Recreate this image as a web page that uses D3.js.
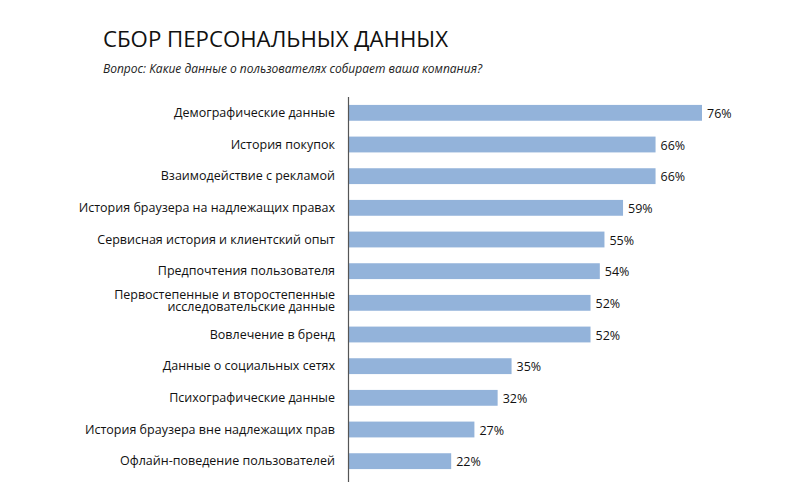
<!DOCTYPE html>
<html><head><meta charset="utf-8">
<script src="https://cdn.jsdelivr.net/npm/d3@7"></script>
<style>body{margin:0;background:#fff}text{font-family:"Open Sans",sans-serif}</style>
</head><body><div id="vis"></div>
<script>
// chart data
const categories = [
  "Демографические данные",
  "История покупок",
  "Взаимодействие с рекламой",
  "История браузера на надлежащих правах",
  "Сервисная история и клиентский опыт",
  "Предпочтения пользователя",
  "Первостепенные и второстепенные|исследовательские данные",
  "Вовлечение в бренд",
  "Данные о социальных сетях",
  "Психографические данные",
  "История браузера вне надлежащих прав",
  "Офлайн-поведение пользователей"
];
const values = [76, 66, 66, 59, 55, 54, 52, 52, 35, 32, 27, 22];

let svg = d3.select('#vis').append('svg')
  .attr('width', 800).attr('height', 492);

svg.append('text').attr('x', 103).attr('y', 47)
  .attr('font-size', 22).attr('font-weight', 500).attr('fill', '#111')
  .attr('textLength', 345).attr('lengthAdjust', 'spacingAndGlyphs')
  .text('СБОР ПЕРСОНАЛЬНЫХ ДАННЫХ');
svg.append('text').attr('x', 103).attr('y', 73)
  .attr('font-size', 12).attr('font-style', 'italic').attr('fill', '#222')
  .text('Вопрос: Какие данные о пользователях собирает ваша компания?');

let x = d3.scaleLinear().domain([0, 76]).range([349, 702]);
let y = d3.scaleBand().domain(categories).range([97, 477]).paddingInner(0.5).paddingOuter(0.25);

svg.selectAll('rect.bar').data(values).enter().append('rect')
  .attr('class', 'bar')
  .attr('x', x(0))
  .attr('y', (d, i) => y(categories[i]))
  .attr('width', d => x(d) - x(0))
  .attr('height', y.bandwidth())
  .attr('fill', '#93b3da');

svg.append('line').attr('x1', 348.5).attr('x2', 348.5).attr('y1', 97).attr('y2', 482)
  .attr('stroke', '#555').attr('stroke-width', 1.2);

svg.selectAll('text.val').data(values).enter().append('text')
  .attr('x', d => x(d) + 5)
  .attr('y', (d, i) => y(categories[i]) + y.bandwidth() / 2 + 5)
  .attr('font-size', 12.5).attr('fill', '#111')
  .text(d => d + '%');

categories.forEach(c => {
  let lines = c.split('|');
  let cy = y(c) + y.bandwidth() / 2;
  let t = svg.append('text').attr('text-anchor', 'end').attr('font-size', 12.5).attr('fill', '#111');
  lines.forEach((l, j) => {
    t.append('tspan').attr('x', 335)
      .attr('y', cy + 4 + (j - (lines.length - 1) / 2) * 12 - (lines.length > 1 ? 2 : 0))
      .text(l);
  });
});
</script></body></html>
